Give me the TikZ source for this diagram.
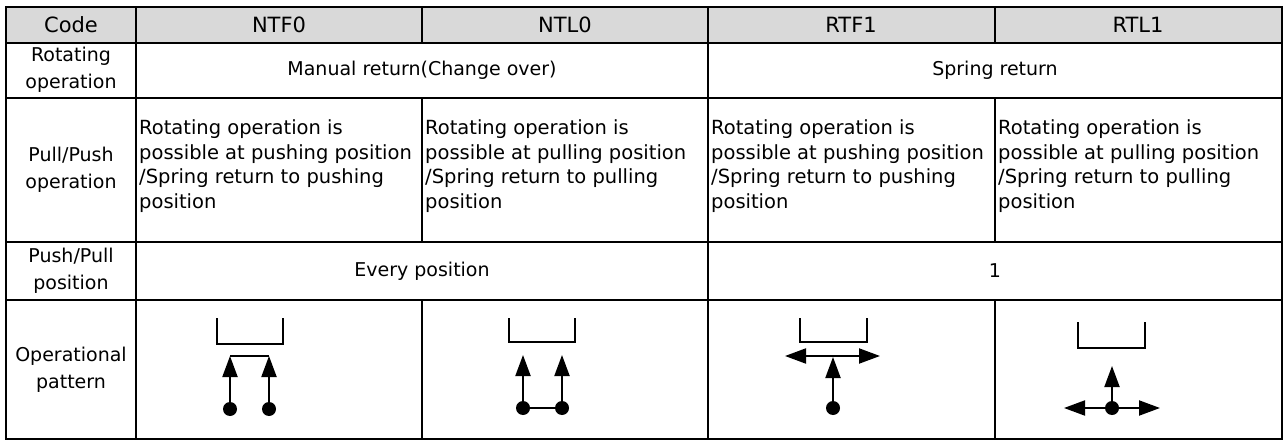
\documentclass[tikz,border=0pt]{standalone}
\usepackage{fontspec}
\setmainfont{DejaVu Sans}
\usetikzlibrary{arrows.meta}
\tikzset{
  grid/.style={line width=2.6pt},
  head/.style={font=\fontsize{21}{25}\selectfont},
  big/.style={font=\fontsize{19}{24}\selectfont},
  lab/.style={font=\fontsize{19}{27}\selectfont, align=center},
  body/.style={font=\fontsize{19.5}{24.5}\selectfont, align=left, anchor=west, inner sep=0pt},
  sym/.style={line width=2pt},
  bracket/.style={line width=1.8pt},
  tip/.style={-{Triangle[width=15pt,length=21pt]}},
  dtip/.style={{Triangle[width=15pt,length=21pt]}-{Triangle[width=15pt,length=21pt]}},
  dot/.style={circle, fill=black, inner sep=0pt, minimum size=14pt},
}
\begin{document}
\begin{tikzpicture}[x=1pt,y=-1pt]
\useasboundingbox (0,0) rectangle (1288,441);
% header band
\fill[black!15] (6,7) rectangle (1282,43);
% rules
\draw[grid] (6,7) rectangle (1282,439);
\foreach \y in {43,98,242,300} \draw[grid] (6,\y) -- (1282,\y);
\draw[grid] (136,7) -- (136,439);
\draw[grid] (422,7) -- (422,43);
\draw[grid] (422,98) -- (422,242);
\draw[grid] (422,300) -- (422,439);
\draw[grid] (708,7) -- (708,439);
\draw[grid] (995,7) -- (995,43);
\draw[grid] (995,98) -- (995,242);
\draw[grid] (995,300) -- (995,439);

% header row
\node[head] (hcode) at (71,25) {Code};
\node[head] (hntf) at (279,25) {NTF0};
\node[head] (hntl) at (565,25) {NTL0};
\node[head] (hrtf) at (851,25) {RTF1};
\node[head] (hrtl) at (1138,25) {RTL1};

% left labels
\node[lab] (lrot) at (71,70) {Rotating\\operation};
\node[lab] (lpp) at (71,170) {Pull/Push\\operation};
\node[lab] (lpos) at (71,271) {Push/Pull\\position};
\node[lab] (lpat) at (71,370) {Operational\\pattern};

% merged cells
\node[big] (manual) at (422,70) {Manual return(Change over)};
\node[big] (spring) at (995,70) {Spring return};
\node[big] (every) at (422,271) {Every position};
\node[big] (one) at (995,271) {1};

% pull/push descriptions
\node[body] (d1) at (139,166) {Rotating operation is\\possible at pushing position\\/Spring return to pushing\\position};
\node[body] (d2) at (425,166) {Rotating operation is\\possible at pulling position\\/Spring return to pulling\\position};
\node[body] (d3) at (711,166) {Rotating operation is\\possible at pushing position\\/Spring return to pushing\\position};
\node[body] (d4) at (998,166) {Rotating operation is\\possible at pulling position\\/Spring return to pulling\\position};

% NTF0 pattern
\draw[bracket] (217,318) -- (217,344) -- (283,344) -- (283,318);
\node[dot] (a1) at (230,409) {};
\node[dot] (a2) at (269,409) {};
\coordinate (a1t) at (230,356);
\coordinate (a2t) at (269,356);
\draw[sym,tip] (a1.center) -- (a1t);
\draw[sym,tip] (a2.center) -- (a2t);
\draw[sym] (a1t) -- (a2t);

% NTL0 pattern
\draw[bracket] (509,318) -- (509,342) -- (575,342) -- (575,318);
\node[dot] (b1) at (523,408) {};
\node[dot] (b2) at (562,408) {};
\coordinate (b1t) at (523,355);
\coordinate (b2t) at (562,355);
\draw[sym,tip] (b1.center) -- (b1t);
\draw[sym,tip] (b2.center) -- (b2t);
\draw[sym] (b1) -- (b2);

% RTF1 pattern
\draw[bracket] (800,318) -- (800,342) -- (867,342) -- (867,318);
\node[dot] (c1) at (833,408) {};
\coordinate (cl) at (785,356);
\coordinate (cr) at (880,356);
\coordinate (ct) at (833,357);
\draw[sym,dtip] (cl) -- (cr);
\draw[sym,tip] (c1.center) -- (ct);

% RTL1 pattern
\draw[bracket] (1078,322) -- (1078,348) -- (1145,348) -- (1145,322);
\node[dot] (e1) at (1112,408) {};
\coordinate (el) at (1064,408);
\coordinate (er) at (1160,408);
\coordinate (et) at (1112,366);
\draw[sym,dtip] (el) -- (er);
\draw[sym,tip] (e1.center) -- (et);
\end{tikzpicture}
\end{document}
